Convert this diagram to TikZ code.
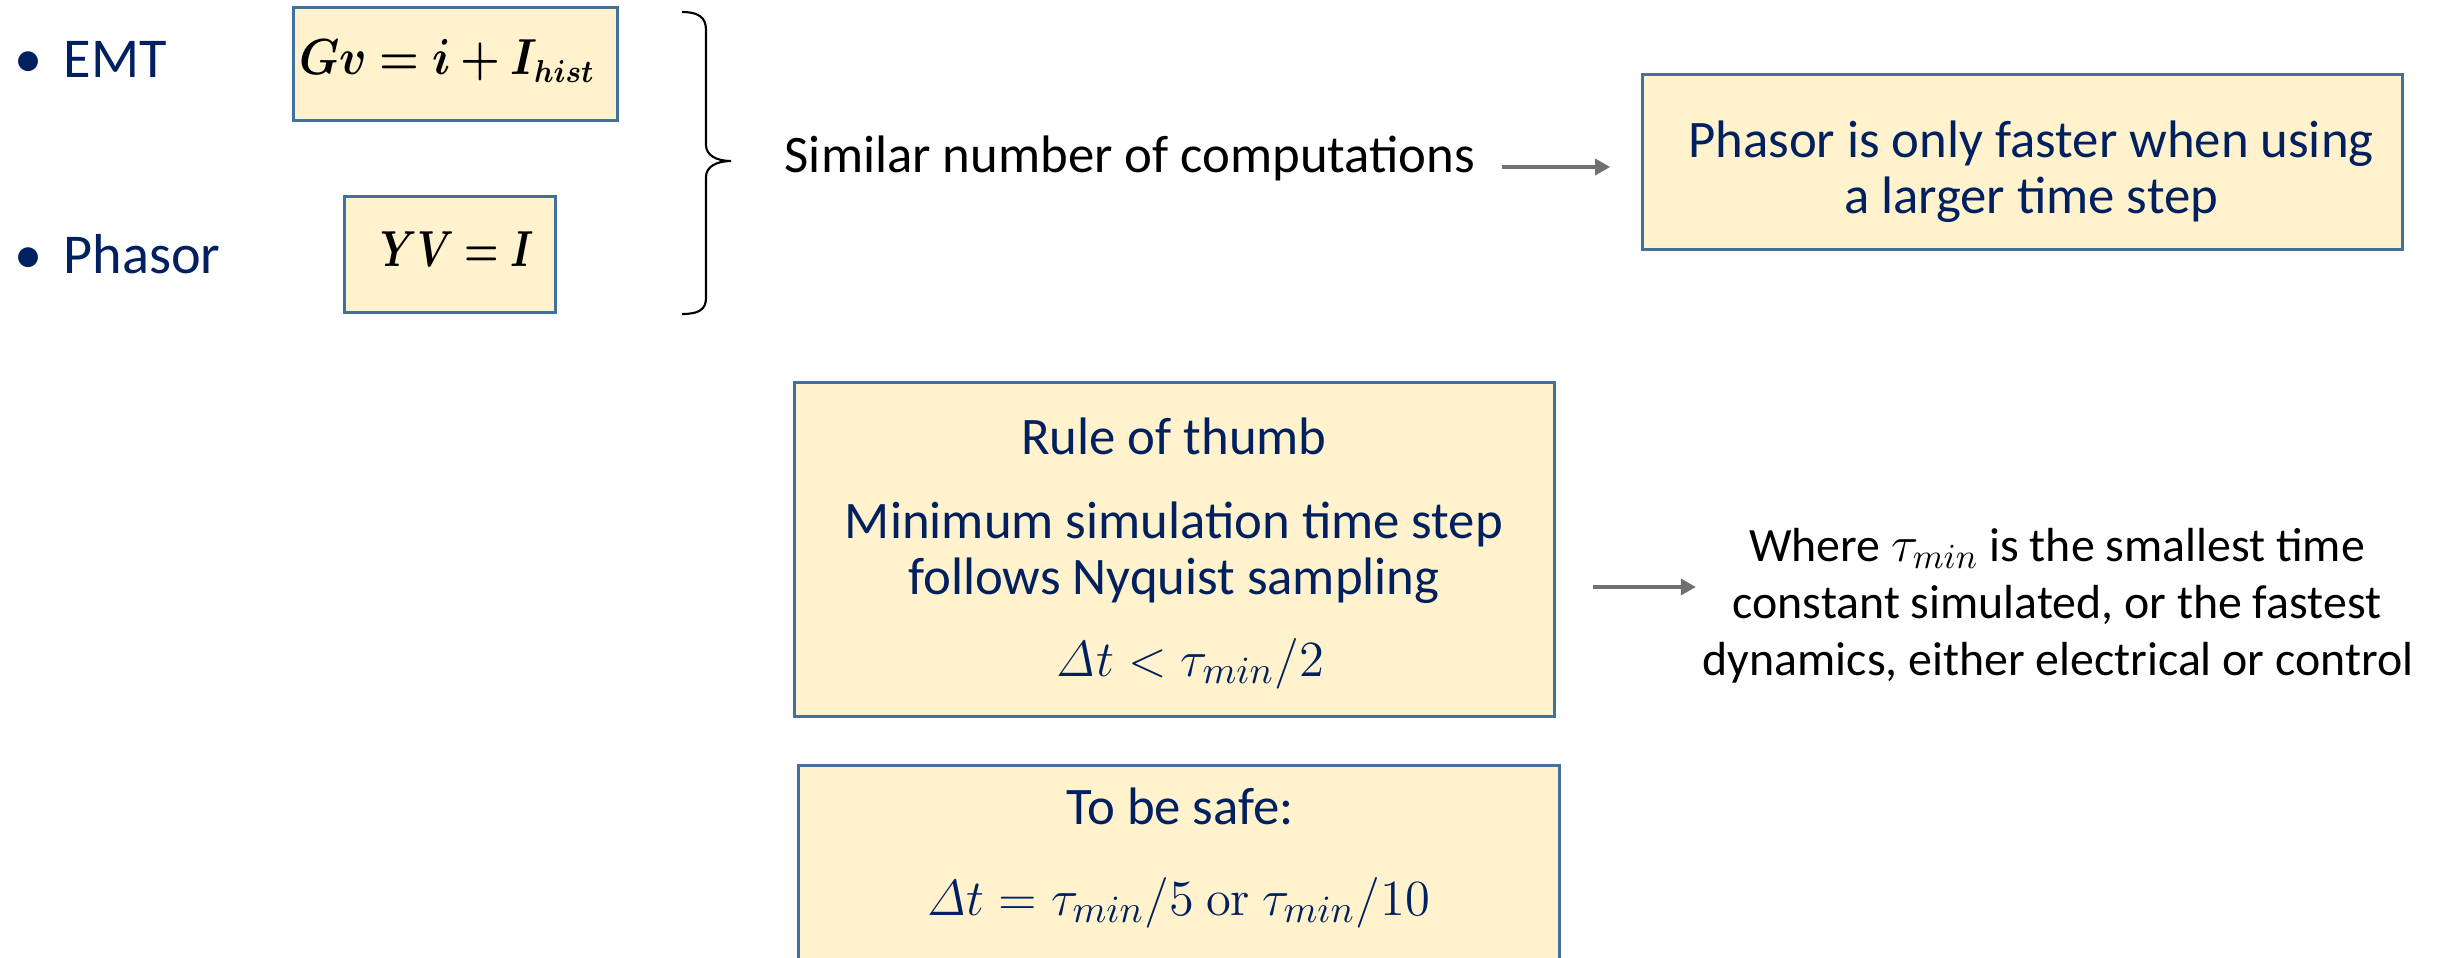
\documentclass[tikz,border=0pt]{standalone}
\usepackage[no-math]{fontspec}
\setmainfont{Carlito}
\usepackage{amsmath,bm,graphicx}
\usetikzlibrary{arrows.meta}
\definecolor{navy}{RGB}{0,32,96}
\definecolor{boxfill}{RGB}{255,242,204}
\definecolor{boxline}{RGB}{65,113,156}
\definecolor{arrgray}{RGB}{112,112,112}
\begin{document}
\begin{tikzpicture}[x=0.01cm,y=-0.01cm,
  box/.style={draw=boxline, line width=0.85pt, fill=boxfill, inner sep=0pt},
  txt/.style={inner sep=0pt, text=navy, font=\fontsize{15}{18}\selectfont},
  small/.style={inner sep=0pt, text=black, font=\fontsize{13.6}{16}\selectfont},
  bul/.style={inner sep=0pt, text=navy, font=\fontsize{16}{19}\selectfont},
  eqn/.style={inner sep=0pt, text=black, font=\fontsize{13.5}{16}\selectfont},
  arr/.style={draw=arrgray, line width=1.15pt, -{Triangle[length=4.3pt,width=4.5pt]}},
]
\useasboundingbox (0,0) rectangle (2440,957);
\clip (0,0) rectangle (2440,957);

% left bullets
\node[bul, anchor=base west] (emt) at (14,77) {\makebox[0.49cm][l]{•}EMT};
\node[bul, anchor=base west] (phasor) at (14,273) {\makebox[0.49cm][l]{•}Phasor};

% equation boxes
\node[box, minimum width=3.24cm, minimum height=1.13cm] (gvbox) at (455.5,64) {};
\node[eqn] (gv) at (447,61) {\scalebox{0.9}[1]{$\bm{Gv=i+I_{hist}}$}};
\node[box, minimum width=2.1cm, minimum height=1.15cm] (yvbox) at (450,254.5) {};
\node[eqn] (yv) at (457,249) {\scalebox{0.78}[1]{$\bm{YV=I}$}};

% brace
\draw[line width=0.6pt] (682,12) .. controls (698,12) and (706,17) .. (706,30)
  -- (706,145) .. controls (706,155) and (716,161) .. (731,161)
  .. controls (716,161) and (706,167) .. (706,177)
  -- (706,298) .. controls (706,310) and (698,314) .. (682,314);

% similar computations
\node[inner sep=0pt, anchor=base west, font=\fontsize{15}{18}\selectfont] (sim) at (784,172) {Similar number of computations};

% faster box
\node[box, minimum width=7.59cm, minimum height=1.75cm] (fasterbox) at (2022.5,162) {};
\node[txt, anchor=base] (faster1) at (2031,157) {Phasor is only faster when using};
\node[txt, anchor=base] (faster2) at (2031,213) {a larger time step};
\draw[arr, shorten <=0.26cm, shorten >=0.31cm] (sim.east |- 0,167) -- (fasterbox.west |- 0,167);

% rule of thumb box
\node[box, minimum width=7.59cm, minimum height=3.33cm] (rulebox) at (1174.5,549.5) {};
\node[txt, anchor=base] (rule1) at (1174,454) {Rule of thumb};
\node[txt, anchor=base] (rule2) at (1174,538) {Minimum simulation time step};
\node[txt, anchor=base] (rule3) at (1174,594) {follows Nyquist sampling};
\node[txt, anchor=base] (rule4) at (1190,676) {$\mathit{\Delta}t<\tau_{min}/2$};

% safe box
\node[box, minimum width=7.6cm, minimum height=3cm, anchor=north] (safebox) at (1179,764) {};
\node[txt, anchor=base] (safe1) at (1180,824) {To be safe:};
\node[txt, anchor=base] (safe2) at (1178,915) {$\mathit{\Delta}t=\tau_{min}/5\ \mathrm{or}\ \tau_{min}/10$};

% where text
\node[small, anchor=base] (where1) at (2057,561) {Where $\tau_{min}$ is the smallest time};
\node[small, anchor=base] (where2) at (2057,618) {constant simulated, or the fastest};
\node[small, anchor=base] (where3) at (2058,675) {dynamics, either electrical or control};
\coordinate (wherein) at (1696,587);
\draw[arr, shorten <=0.37cm] (rulebox.east |- 0,587) -- (wherein);
\end{tikzpicture}
\end{document}
